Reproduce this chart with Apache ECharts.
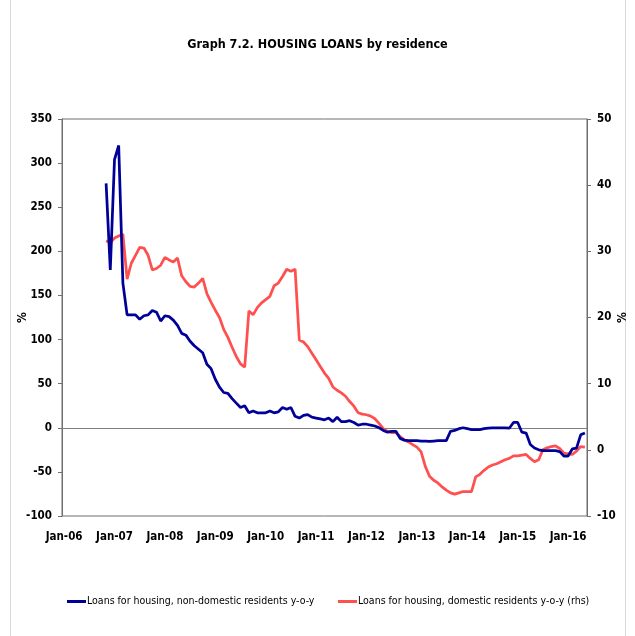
<!DOCTYPE html>
<html>
<head>
<meta charset="utf-8">
<script src="https://cdn.jsdelivr.net/npm/echarts@6/dist/echarts.min.js"></script>
<style>
html,body{margin:0;padding:0;background:#fff;}
#chart{width:635px;height:636px;}
</style>
</head>
<body>
<div id="chart"></div>
<script>
// Month categories Jan-06 .. May-16
var monthNames = ['Jan','Feb','Mar','Apr','May','Jun','Jul','Aug','Sep','Oct','Nov','Dec'];
var categories = [];
for (var y = 6; y <= 16; y++) {
  for (var m = 0; m < 12; m++) {
    if (y === 16 && m > 4) break;
    categories.push(monthNames[m] + '-' + (y < 10 ? '0' + y : '' + y));
  }
}

var leftTicks = { min: -100, max: 350, interval: 50 };
var rightTicks = { min: -10, max: 50, interval: 10 };

var seriesNames = [
  'Loans for housing, non-domestic residents y-o-y',
  'Loans for housing, domestic residents y-o-y (rhs)'
];

// Non-domestic residents, y-o-y % (lhs), Jan-06 .. May-16
var nonDomestic = [
  null,null,null,null,null,null,null,null,null,null,
  277,179,304,320,164,128,128,128,123,127,
  128,133,131,121,127,126,122,116,107,105,
  98,93,89,85,72,67,55,46,40,39,
  33,28,23,25,17,19,17,17,17,19,
  17,18,23,21,23,13,11,14,15,12,
  11,10,9,11,7,12,7,7,8,6,
  3,4,4,3,2,0,-3,-5,-4,-4,
  -12,-14,-14.6,-14.6,-14.6,-15,-15,-15.5,-15,-14.6,
  -14.6,-14.6,-4,-3,-1,0,-1,-2,-2,-2,
  -1,-0.5,0,0,0,0,-0.5,6,6,-5,
  -6,-19,-23,-25,-26,-26,-26,-26,-27,-32,
  -32,-24,-23,-8,-6
];

// Domestic residents, y-o-y % (rhs), Jan-06 .. May-16
var domestic = [
  null,null,null,null,null,null,null,null,null,null,
  31.6,31.3,32.0,32.3,32.6,25.8,28.2,29.4,30.6,30.5,
  29.4,27.2,27.4,27.9,29.1,28.7,28.4,29.0,26.3,25.4,
  24.7,24.6,25.2,25.9,23.6,22.3,21.1,20.0,18.2,17.0,
  15.5,14.1,13.0,12.5,21.0,20.4,21.5,22.2,22.7,23.2,
  24.8,25.2,26.2,27.3,27.0,27.3,16.6,16.3,15.6,14.6,
  13.6,12.6,11.6,10.8,9.5,9.0,8.6,8.1,7.3,6.6,
  5.6,5.4,5.3,5.1,4.7,4.0,3.2,2.8,2.6,2.6,
  2.0,1.5,1.2,0.8,0.4,-0.3,-2.5,-4.0,-4.6,-5.0,
  -5.6,-6.1,-6.5,-6.7,-6.5,-6.3,-6.3,-6.3,-4.1,-3.7,
  -3.1,-2.6,-2.3,-2.1,-1.8,-1.5,-1.3,-0.9,-0.9,-0.8,
  -0.7,-1.3,-1.8,-1.5,0.0,0.3,0.5,0.6,0.2,-0.5,
  -0.6,-0.7,-0.2,0.5,0.4
];

var FONT = "'DejaVu Sans Condensed', Roboto, sans-serif";
var BLUE = '#000099';
var RED = '#FF5050';

var chart = echarts.init(document.getElementById('chart'), null, { renderer: 'canvas' });
chart.setOption({
  backgroundColor: '#ffffff',
  animation: false,
  textStyle: { fontFamily: FONT },
  title: {
    text: 'Graph 7.2. HOUSING LOANS by residence',
    left: 'center',
    top: 33,
    textStyle: { fontFamily: FONT, fontSize: 12.5, fontWeight: 'bold', color: '#000' }
  },
  graphic: [
    { type: 'line', shape: { x1: 10.5, y1: 0, x2: 10.5, y2: 636 }, style: { stroke: '#d9d9d9', lineWidth: 1 } },
    { type: 'line', shape: { x1: 625.5, y1: 0, x2: 625.5, y2: 636 }, style: { stroke: '#d9d9d9', lineWidth: 1 } }
  ],
  legend: [
    {
      data: [seriesNames[0]],
      left: 62, top: 591,
      icon: 'rect', itemWidth: 19, itemHeight: 3, itemGap: 2,
      textStyle: { fontFamily: FONT, fontSize: 10.5, color: '#000', padding: [0, 0, 0, -4] }
    },
    {
      data: [seriesNames[1]],
      left: 333, top: 591,
      icon: 'rect', itemWidth: 19, itemHeight: 3, itemGap: 2,
      textStyle: { fontFamily: FONT, fontSize: 10.5, color: '#000', padding: [0, 0, 0, -4] }
    }
  ],
  grid: {
    left: 62, right: 48, top: 119, bottom: 120,
    show: true, borderColor: '#6f6f6f', borderWidth: 1,
    containLabel: false,
    outerBoundsMode: 'none'
  },
  xAxis: {
    type: 'category',
    data: categories,
    boundaryGap: true,
    axisLine: { show: true, lineStyle: { color: '#6f6f6f', width: 1 } },
    axisTick: { show: false },
    axisLabel: {
      interval: 11,
      margin: 15,
      fontFamily: FONT, fontSize: 11.5, fontWeight: 'bold', color: '#000'
    },
    splitLine: { show: false }
  },
  yAxis: [
    {
      type: 'value',
      min: leftTicks.min, max: leftTicks.max, interval: leftTicks.interval,
      position: 'left',
      name: '%',
      nameLocation: 'middle',
      nameGap: 33,
      nameRotate: 90,
      nameMoveOverlap: false,
      nameTextStyle: { fontFamily: FONT, fontSize: 12, fontWeight: 'bold', color: '#000' },
      axisLine: { show: true, lineStyle: { color: '#6f6f6f', width: 1 } },
      axisTick: { show: true, inside: false, length: 4, lineStyle: { color: '#6f6f6f' } },
      axisLabel: { margin: 10, fontFamily: FONT, fontSize: 11.5, fontWeight: 'bold', color: '#000' },
      splitLine: { show: false }
    },
    {
      type: 'value',
      min: rightTicks.min, max: rightTicks.max, interval: rightTicks.interval,
      position: 'right',
      name: '%',
      nameLocation: 'middle',
      nameGap: 30,
      nameRotate: 90,
      nameMoveOverlap: false,
      nameTextStyle: { fontFamily: FONT, fontSize: 12, fontWeight: 'bold', color: '#000' },
      axisLine: { show: true, lineStyle: { color: '#6f6f6f', width: 1 } },
      axisTick: { show: true, inside: false, length: 4, lineStyle: { color: '#6f6f6f' } },
      axisLabel: { margin: 10, fontFamily: FONT, fontSize: 11.5, fontWeight: 'bold', color: '#000' },
      splitLine: { show: false }
    }
  ],
  series: [
    {
      name: seriesNames[0],
      type: 'line',
      yAxisIndex: 0,
      data: nonDomestic,
      showSymbol: false,
      symbol: 'none',
      connectNulls: false,
      color: BLUE,
      lineStyle: { color: BLUE, width: 2.75 },
      z: 3,
      markLine: {
        silent: true,
        symbol: 'none',
        label: { show: false },
        lineStyle: { color: '#808080', width: 1, type: 'solid' },
        data: [{ yAxis: 0 }],
        z: 1
      }
    },
    {
      name: seriesNames[1],
      type: 'line',
      yAxisIndex: 1,
      data: domestic,
      showSymbol: false,
      symbol: 'none',
      color: RED,
      lineStyle: { color: RED, width: 2.75 },
      z: 2
    }
  ]
});
</script>
</body>
</html>
